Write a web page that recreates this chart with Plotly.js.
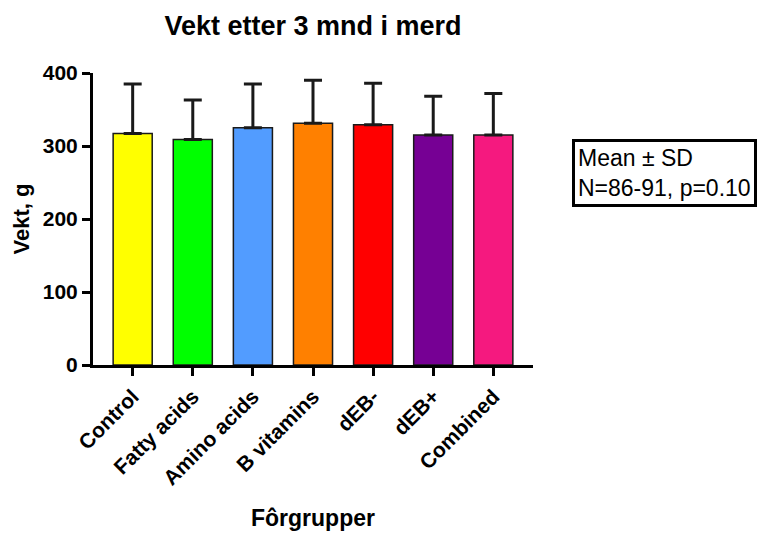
<!DOCTYPE html>
<html>
<head>
<meta charset="utf-8">
<script src="https://cdn.plot.ly/plotly-3.0.1.min.js"></script>
<style>html,body{margin:0;padding:0;background:#fff;}#chart{width:762px;height:534px;}</style>
</head>
<body>
<div id="chart"></div>
<script>
const categories = ["Control", "Fatty acids", "Amino acids", "B vitamins", "dEB-", "dEB+", "Combined"];
const meanValues = [317, 309, 325, 331, 329, 315, 315];
const sdValues = [68, 54, 60, 59, 57, 53, 57];
const barColors = ["#FFFF00", "#00FF00", "#529CFF", "#FF8000", "#FF0000", "#760094", "#F5197F"];
const yTicks = [0, 100, 200, 300, 400];

const FONT = "Liberation Sans, Arial, sans-serif";

const trace = {
  type: "bar",
  x: categories,
  y: meanValues,
  width: 0.65,
  marker: { color: barColors, line: { color: "#1a1a1a", width: 1.5 } },
  error_y: {
    type: "data",
    symmetric: false,
    array: sdValues,
    arrayminus: meanValues.map(() => 0),
    color: "#1a1a1a",
    thickness: 3,
    width: 9
  },
  hoverinfo: "x+y"
};

const layout = {
  width: 762,
  height: 534,
  margin: { l: 93, r: 229, t: 73, b: 169 },
  paper_bgcolor: "#fff",
  plot_bgcolor: "#fff",
  showlegend: false,
  font: { family: FONT, color: "#000" },
  title: {
    text: "Vekt etter 3 mnd i merd",
    font: { family: FONT, size: 27, weight: 700, color: "#000" },
    x: 0.5, xref: "paper", xanchor: "center",
    y: 0.953, yref: "container", yanchor: "middle"
  },
  xaxis: {
    type: "category",
    range: [-0.66, 6.66],
    showline: true, linecolor: "#000", linewidth: 3,
    ticks: "outside", ticklen: 8, tickwidth: 3, tickcolor: "#000",
    tickangle: -45,
    tickfont: { family: FONT, size: 21, weight: 700, color: "#000" },
    showgrid: false, zeroline: false,
    title: { text: "Fôrgrupper", font: { family: FONT, size: 23, weight: 700, color: "#000" }, standoff: 22 }
  },
  yaxis: {
    range: [0, 400],
    tickvals: yTicks,
    ticktext: yTicks.map(String),
    showline: true, linecolor: "#000", linewidth: 3,
    ticks: "outside", ticklen: 8, tickwidth: 3, tickcolor: "#000",
    tickfont: { family: FONT, size: 21, weight: 700, color: "#000" },
    showgrid: false, zeroline: false,
    title: { text: "Vekt, g", font: { family: FONT, size: 22, weight: 700, color: "#000" }, standoff: 8 }
  },
  annotations: [{
    xref: "paper", yref: "paper",
    x: 1.0886, y: 0.774,
    xanchor: "left", yanchor: "top",
    align: "left",
    showarrow: false,
    text: "Mean ± SD<br>N=86-91, p=0.10",
    font: { family: FONT, size: 23, color: "#000" },
    bordercolor: "#000",
    borderwidth: 3,
    borderpad: 3,
    bgcolor: "#fff"
  }]
};

Plotly.newPlot("chart", [trace], layout, { displayModeBar: false, staticPlot: true });
</script>
</body>
</html>
